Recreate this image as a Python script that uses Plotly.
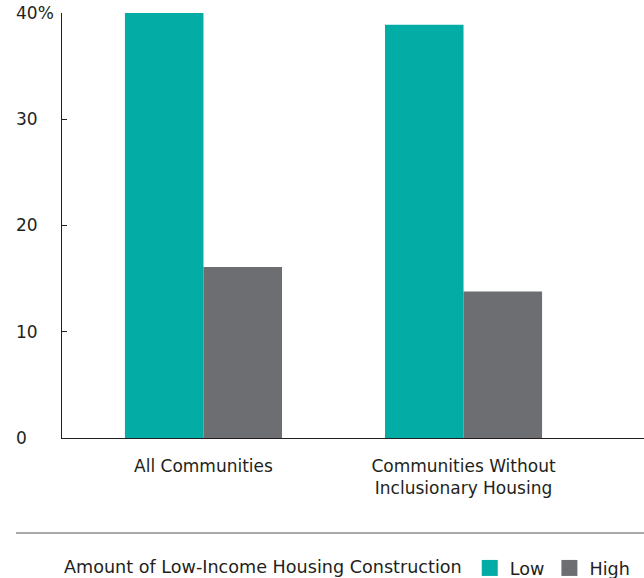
import plotly.graph_objects as go

categories = ["All Communities", "Communities Without<br>Inclusionary Housing"]
series_names = ["Low", "High"]
low_values = [40.0, 38.9]
high_values = [16.1, 13.8]
y_tick_vals = [0, 10, 20, 30, 40]
y_tick_text = ["0", "10", "20", "30", "40%"]
legend_title = "Amount of Low-Income Housing Construction"

TEAL = "#03ADA6"
GRAY = "#6D6E71"
INK = "#231F20"
FONT = "DejaVu Sans"
FS = 17
LFS = 17.6

fig = go.Figure()
for name, vals, col in [(series_names[0], low_values, TEAL), (series_names[1], high_values, GRAY)]:
    fig.add_trace(go.Bar(name=name, x=categories, y=vals, marker_color=col,
                         marker_line_width=0, showlegend=False, legendgroup=name))
# legend entries with larger square swatches
for name, col in [(series_names[0], TEAL), (series_names[1], GRAY)]:
    fig.add_trace(go.Scatter(name=name, x=[None], y=[None], mode="markers",
                             marker=dict(symbol="square", size=17, color=col),
                             legendgroup=name, showlegend=True, hoverinfo="skip"))
# invisible helper so the left label axis is drawn
fig.add_trace(go.Scatter(x=categories, y=low_values, yaxis="y2", mode="markers",
                         marker=dict(opacity=0), showlegend=False, hoverinfo="skip"))

W, H = 644, 578
ml, mr, mt, mb = 12, 0, 0, 120
pw = W - ml - mr
ph = H - mt - mb  # plot area spans pixel rows 0..458
top_px, base_px = 13, 438
x_axis_px = 62
dom0 = (x_axis_px - ml) / pw
ydom = [(ph - base_px) / ph, (ph - top_px) / ph]
ppu = (base_px - top_px) / 40.0
y2_range = [-(ph - base_px) / ppu, 40 + top_px / ppu]


def py(px):
    return (ph - px) / ph


fig.update_layout(
    width=W, height=H,
    margin=dict(l=ml, r=mr, t=mt, b=mb, autoexpand=False),
    paper_bgcolor="white", plot_bgcolor="rgba(0,0,0,0)",
    font=dict(family=FONT, size=FS, color=INK),
    barmode="group", bargap=0.396, bargroupgap=0,
    xaxis=dict(domain=[dom0, 1], type="category", range=[-0.544, 1.694],
               showline=True, linecolor=INK, linewidth=1.2, ticks="",
               showgrid=False, tickfont=dict(size=FS, color=INK), ticklabelstandoff=12),
    yaxis=dict(domain=ydom, range=[0, 40], tickvals=y_tick_vals, showticklabels=False,
               ticks="inside", ticklen=5, tickcolor=INK, tickwidth=1.2,
               showline=True, linecolor=INK, linewidth=1.2, showgrid=False,
               zeroline=False),
    yaxis2=dict(domain=[0, 1], range=y2_range, anchor="free", position=0,
                tickvals=y_tick_vals, ticktext=y_tick_text,
                ticklabelposition="inside", ticks="", showline=False,
                showgrid=False, zeroline=False, tickfont=dict(size=FS, color=INK)),
    showlegend=True,
    legend=dict(orientation="h", x=(62 - ml) / pw, xanchor="left",
                y=py(568), yanchor="middle",
                title=dict(text=legend_title, side="left", font=dict(size=LFS, color=INK)),
                font=dict(size=LFS, color=INK), traceorder="normal",
                itemwidth=30, bgcolor="rgba(0,0,0,0)"),
    shapes=[dict(type="line", xref="paper", yref="paper",
                 x0=(16 - ml) / pw, x1=1, y0=py(533), y1=py(533),
                 line=dict(color="#555555", width=1))],
)

fig.write_html("out.html")
